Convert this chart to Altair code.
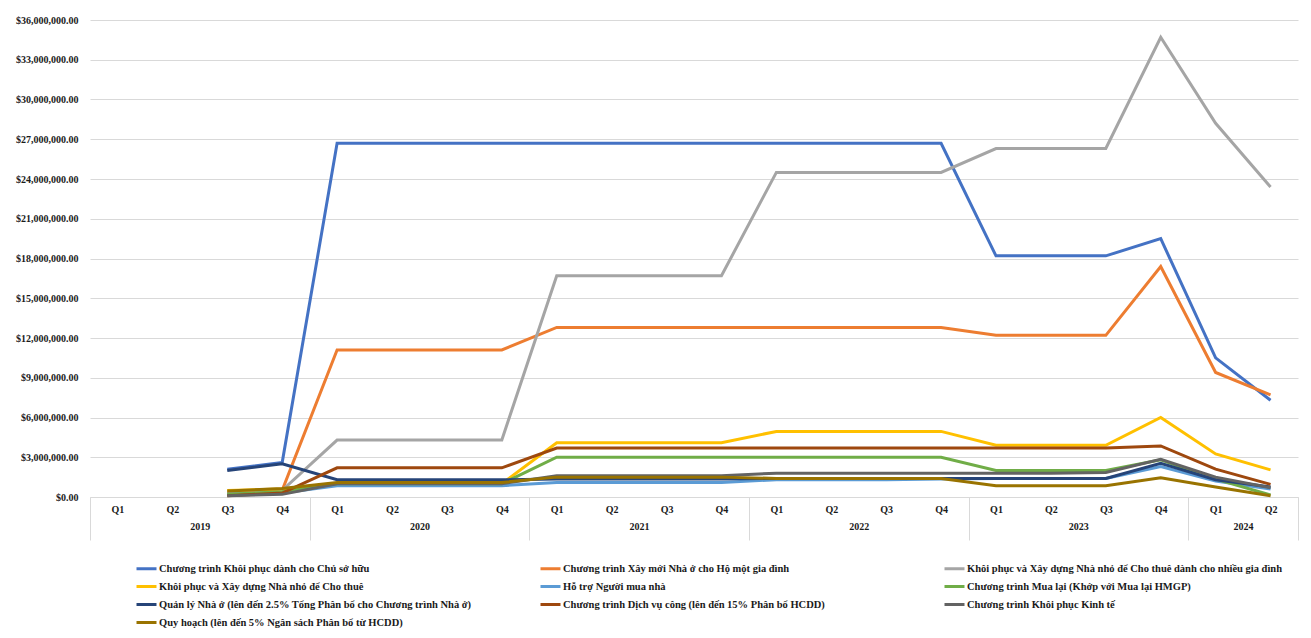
import altair as alt
import pandas as pd

# ---- category axis (quarters grouped by year) ----
quarters = ["Q1", "Q2", "Q3", "Q4",
            "Q1", "Q2", "Q3", "Q4",
            "Q1", "Q2", "Q3", "Q4",
            "Q1", "Q2", "Q3", "Q4",
            "Q1", "Q2", "Q3", "Q4",
            "Q1", "Q2"]
years = ["2019", "2020", "2021", "2022", "2023", "2024"]
quarters_per_year = [4, 4, 4, 4, 4, 2]

# ---- series (values in millions of USD; None = no data) ----
series_names = [
    "Chương trình Khôi phục dành cho Chủ sở hữu",
    "Chương trình Xây mới Nhà ở cho Hộ một gia đình",
    "Khôi phục và Xây dựng Nhà nhỏ để Cho thuê dành cho nhiều gia đình",
    "Khôi phục và Xây dựng Nhà nhỏ để Cho thuê",
    "Hỗ trợ Người mua nhà",
    "Chương trình Mua lại (Khớp với Mua lại HMGP)",
    "Quản lý Nhà ở (lên đến 2.5% Tổng Phân bổ cho Chương trình Nhà ở)",
    "Chương trình Dịch vụ công (lên đến 15% Phân bổ HCDD)",
    "Chương trình Khôi phục Kinh tế",
    "Quy hoạch (lên đến 5% Ngân sách Phân bổ từ HCDD)",
]
colors = ["#4472C4", "#ED7D31", "#A5A5A5", "#FFC000", "#5B9BD5",
          "#70AD47", "#264478", "#9E480E", "#636363", "#997300"]

homeowner = [None, None, 2.1, 2.6, 26.7, 26.7, 26.7, 26.7, 26.7, 26.7, 26.7, 26.7,
             26.7, 26.7, 26.7, 26.7, 18.2, 18.2, 18.2, 19.5, 10.5, 7.3]
new_single = [None, None, 0.3, 0.5, 11.1, 11.1, 11.1, 11.1, 12.8, 12.8, 12.8, 12.8,
              12.8, 12.8, 12.8, 12.8, 12.2, 12.2, 12.2, 17.4, 9.4, 7.7]
multi_rental = [None, None, 0.3, 0.5, 4.3, 4.3, 4.3, 4.3, 16.7, 16.7, 16.7, 16.7,
                24.5, 24.5, 24.5, 24.5, 26.3, 26.3, 26.3, 34.7, 28.2, 23.4]
small_rental = [None, None, 0.5, 0.6, 1.0, 1.0, 1.0, 1.0, 4.1, 4.1, 4.1, 4.1,
                4.95, 4.95, 4.95, 4.95, 3.9, 3.9, 3.9, 6.0, 3.25, 2.05]
homebuyer = [None, None, 0.2, 0.3, 0.85, 0.85, 0.85, 0.85, 1.1, 1.1, 1.1, 1.1,
             1.3, 1.3, 1.3, 1.35, 1.4, 1.4, 1.4, 2.3, 1.2, 0.6]
buyout = [None, None, 0.2, 0.4, 1.0, 1.0, 1.0, 1.0, 3.0, 3.0, 3.0, 3.0,
          3.0, 3.0, 3.0, 3.0, 2.0, 2.0, 2.0, 2.8, 1.35, 0.15]
admin = [None, None, 2.0, 2.5, 1.3, 1.3, 1.3, 1.3, 1.35, 1.35, 1.35, 1.35,
         1.4, 1.4, 1.4, 1.4, 1.4, 1.4, 1.4, 2.55, 1.3, 0.75]
public_services = [None, None, 0.1, 0.3, 2.2, 2.2, 2.2, 2.2, 3.7, 3.7, 3.7, 3.7,
                   3.7, 3.7, 3.7, 3.7, 3.7, 3.7, 3.7, 3.85, 2.1, 0.95]
economic = [None, None, 0.1, 0.2, 1.0, 1.0, 1.0, 1.0, 1.6, 1.6, 1.6, 1.6,
            1.8, 1.8, 1.8, 1.8, 1.8, 1.8, 1.85, 2.85, 1.5, 0.7]
planning = [None, None, 0.45, 0.65, 1.1, 1.1, 1.1, 1.1, 1.5, 1.5, 1.5, 1.5,
            1.4, 1.4, 1.4, 1.4, 0.85, 0.85, 0.85, 1.45, 0.75, 0.1]

series_values = [homeowner, new_single, multi_rental, small_rental, homebuyer,
                 buyout, admin, public_services, economic, planning]

y_ticks = [0, 3, 6, 9, 12, 15, 18, 21, 24, 27, 30, 33, 36]

# ---- build tables ----
rows = []
for name, vals in zip(series_names, series_values):
    for i, v in enumerate(vals):
        if v is not None:
            rows.append({"series": name, "t": i, "value": v * 1_000_000})
df = pd.DataFrame(rows)

n = len(quarters)
boundaries = [-0.5]
mids = []
start = 0
for cnt in quarters_per_year:
    mids.append(start + (cnt - 1) / 2)
    start += cnt
    boundaries.append(start - 0.5)
sep_df = pd.DataFrame({"b": boundaries})
year_df = pd.DataFrame({"m": mids})

quarter_expr = "[" + ",".join("'%s'" % q for q in quarters) + "][datum.value]"
year_expr = "[" + ",".join("'%s'" % y for y in years) + "][floor((datum.value + 0.5) / 4)]"

FONT = "Liberation Serif"
TXT = "#1a1a1a"
GRID = "#D9D9D9"

xscale = alt.Scale(domain=[-0.5, n - 0.5], nice=False, zero=False)

lines = alt.Chart(df).mark_line(strokeWidth=3).encode(
    x=alt.X("t:Q", scale=xscale,
            axis=alt.Axis(orient="bottom", values=list(range(n)), labelExpr=quarter_expr,
                          grid=False, ticks=False, domain=False, labelPadding=7, title=None,
                          labelFont=FONT, labelFontSize=10, labelFontWeight="bold",
                          labelColor=TXT, labelFlush=False)),
    y=alt.Y("value:Q", scale=alt.Scale(domain=[0, 36_000_000], nice=False),
            axis=alt.Axis(values=[v * 1_000_000 for v in y_ticks], format="$,.2f",
                          title=None, ticks=False, domain=False, gridColor=GRID,
                          labelPadding=12, labelFont=FONT, labelFontSize=10,
                          labelFontWeight="bold", labelColor=TXT)),
    color=alt.Color("series:N", scale=alt.Scale(domain=series_names, range=colors),
                    legend=alt.Legend(orient="none", legendX=45, legendY=537, columns=3,
                                      direction="horizontal",
                                      title=None, symbolType="stroke", symbolSize=400,
                                      symbolStrokeWidth=3, labelFont=FONT, labelFontSize=10.5,
                                      labelFontWeight="bold", labelColor=TXT,
                                      columnPadding=60, rowPadding=-2, labelOffset=1,
                                      gridAlign="all", labelLimit=600)),
)

separators = alt.Chart(sep_df).mark_rule(opacity=0).encode(
    x=alt.X("b:Q", scale=xscale,
            axis=alt.Axis(orient="bottom", values=boundaries, labels=False, tickSize=43,
                          tickColor=GRID, domain=True, domainColor=GRID, grid=False,
                          title=None))
)

year_axis = alt.Chart(year_df).mark_rule(opacity=0).encode(
    x=alt.X("m:Q", scale=xscale,
            axis=alt.Axis(orient="bottom", values=mids, labelExpr=year_expr, ticks=False,
                          domain=False, grid=False, title=None, labelPadding=24,
                          labelFont=FONT, labelFontSize=10, labelFontWeight="bold",
                          labelColor=TXT, labelFlush=False))
)

chart = alt.layer(separators, year_axis, lines).resolve_axis(x="independent").properties(
    width=1208, height=477, padding={"left": 7, "top": 7, "right": 3, "bottom": 3}
).configure_view(stroke=None)

chart.save("out.html", embed_options={"renderer": "svg", "actions": False})
